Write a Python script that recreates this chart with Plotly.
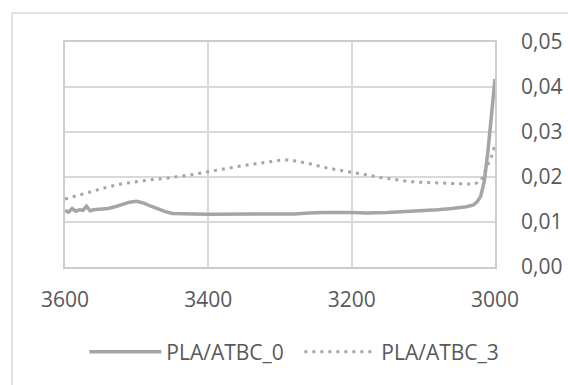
import plotly.graph_objects as go

# Series PLA/ATBC_0 (solid)
x0 = [3600, 3595, 3590, 3585, 3580, 3575, 3570, 3565, 3560, 3550, 3540, 3530, 3520, 3510,
      3500, 3490, 3480, 3470, 3460, 3450, 3440, 3420, 3400, 3350, 3300, 3280, 3260, 3240,
      3200, 3180, 3150, 3120, 3100, 3080, 3060, 3050, 3040, 3030, 3025, 3020, 3015, 3010,
      3005, 3000]
y0 = [0.0125, 0.0122, 0.0130, 0.0124, 0.0127, 0.0126, 0.0135, 0.0125, 0.0127, 0.0128,
      0.0130, 0.0134, 0.0138, 0.0144, 0.0146, 0.0142, 0.0135, 0.0128, 0.0123, 0.0119,
      0.0119, 0.0118, 0.0117, 0.0117, 0.0118, 0.0118, 0.0120, 0.0121, 0.0121, 0.0120,
      0.0121, 0.0123, 0.0125, 0.0127, 0.0130, 0.0132, 0.0134, 0.0138, 0.0145, 0.0157,
      0.0190, 0.0255, 0.0340, 0.0418]

# Series PLA/ATBC_3 (dotted)
x3 = [3600, 3580, 3560, 3540, 3520, 3500, 3480, 3460, 3440, 3420, 3400, 3380, 3360, 3340,
      3320, 3300, 3290, 3280, 3260, 3240, 3220, 3200, 3180, 3160, 3140, 3120, 3100, 3080,
      3060, 3040, 3030, 3020, 3010, 3005, 3000]
y3 = [0.0151, 0.0160, 0.0170, 0.0178, 0.0185, 0.0190, 0.0194, 0.0197, 0.0201, 0.0206,
      0.0212, 0.0218, 0.0223, 0.0228, 0.0233, 0.0237, 0.0238, 0.0236, 0.0230, 0.0222,
      0.0216, 0.0211, 0.0205, 0.0199, 0.0194, 0.0190, 0.0188, 0.0187, 0.0186, 0.0185,
      0.0184, 0.0190, 0.0225, 0.0245, 0.0272]

names = ["PLA/ATBC_0", "PLA/ATBC_3"]
x_ticks = [3600, 3400, 3200, 3000]

GRAY = "#a5a5a5"
GRID = "#d9d9d9"
AXL = "#cccccc"
TXT = "#595959"
FONT = "Open Sans"
FS = 21

fig = go.Figure()
fig.add_trace(go.Scatter(x=x0, y=y0, mode="lines", name=names[0],
                         line=dict(color=GRAY, width=3.5)))
fig.add_trace(go.Scatter(x=x3, y=y3, mode="lines", name=names[1],
                         line=dict(color=GRAY, width=3, dash="3px,5px")))

fig.update_layout(
    width=568, height=385,
    margin=dict(l=65, r=73, t=42, b=118),
    paper_bgcolor="white", plot_bgcolor="white",
    separators=",.",
    font=dict(family=FONT, size=FS, color=TXT),
    showlegend=True,
    legend=dict(orientation="h", x=0.045, xanchor="left",
                yref="container", y=0.0857, yanchor="middle",
                font=dict(family=FONT, size=FS, color=TXT), itemwidth=72,
                entrywidth=128, entrywidthmode="pixels",
                borderwidth=0, bgcolor="rgba(0,0,0,0)"),
    xaxis=dict(range=[3600, 3000], tickvals=x_ticks, showgrid=True, gridcolor=GRID,
               gridwidth=1.5, zeroline=False, showline=True, linecolor=AXL, linewidth=1.5,
               mirror=True, ticks="outside", ticklen=13, tickcolor="rgba(0,0,0,0)",
               automargin=False,
               tickfont=dict(family=FONT, size=FS, color=TXT)),
    yaxis=dict(range=[0, 0.05], dtick=0.01, tickformat=".2f", side="right",
               showgrid=True, gridcolor=GRID, gridwidth=1.5, zeroline=False,
               showline=True, linecolor=AXL, linewidth=1.5, mirror=True,
               ticks="outside", ticklen=20, tickcolor="rgba(0,0,0,0)",
               automargin=False,
               tickfont=dict(family=FONT, size=FS, color=TXT)),
    shapes=[dict(type="rect", xref="paper", yref="paper", x0=-0.123, y0=-1.0,
                 x1=1.4, y1=1.129, line=dict(color=GRID, width=1.5), layer="below")],
)

fig.write_html("out.html", config={"displayModeBar": False},
               post_script="document.body.style.margin='0';")
